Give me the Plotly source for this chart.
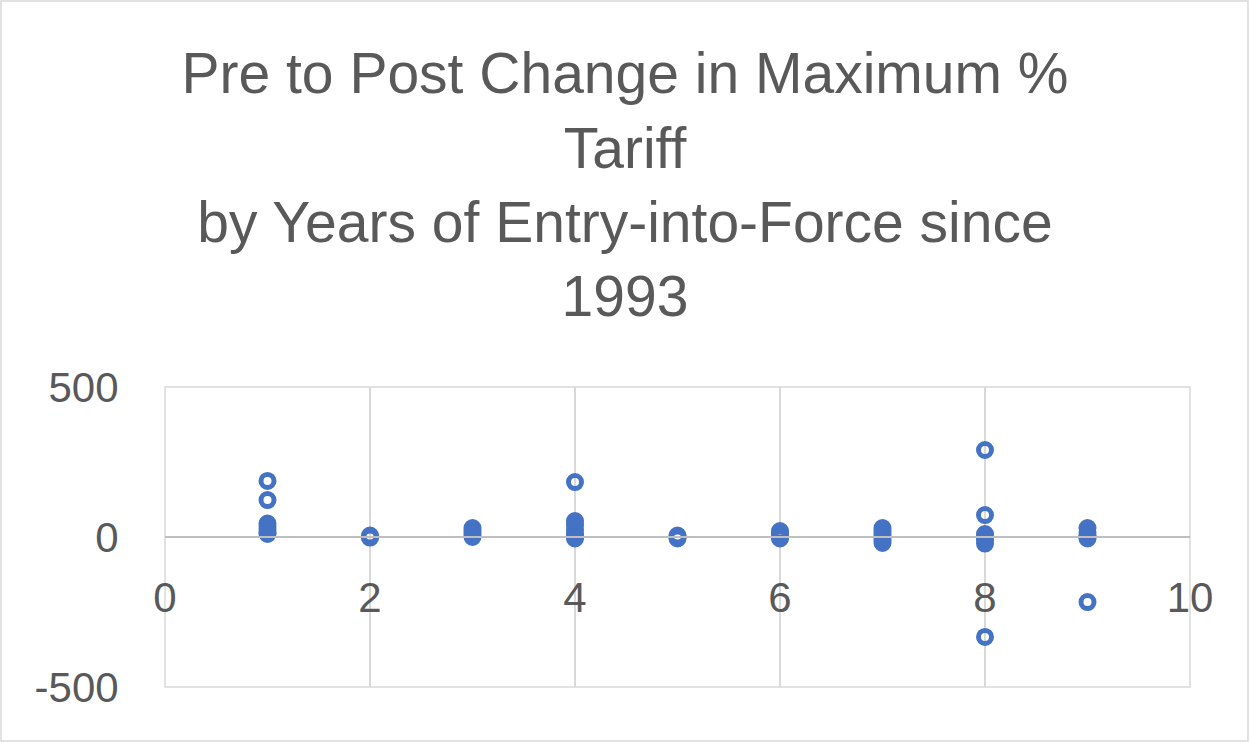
import plotly.graph_objects as go

years = [1, 1, 1, 1, 1, 1, 1,
         2, 2, 2,
         3, 3, 3, 3,
         4, 4, 4, 4, 4, 4, 4,
         5, 5, 5,
         6, 6, 6, 6,
         7, 7, 7, 7, 7, 7,
         8, 8, 8, 8, 8, 8, 8,
         9, 9, 9, 9, 9, 9]
changes = [187, 123, 45, 35, 25, 15, 10,
           5, 0, -2,
           30, 20, 10, 0,
           183, 53, 40, 25, 10, 0, -5,
           5, 0, -5,
           20, 10, 0, -5,
           30, 20, 10, 0, -10, -20,
           290, 73, 10, 0, -10, -22, -333,
           30, 15, 5, 0, -5, -217]

title_text = "Pre to Post Change in Maximum %<br>Tariff<br>by Years of Entry-into-Force since<br>1993"
x_ticks = [0, 2, 4, 6, 8, 10]
y_ticks = [-500, 0, 500]
y_tick_text = ["-500", "0", "500"]

FONT = "Liberation Sans"
GREY = "#595959"

fig = go.Figure(go.Scatter(
    x=years, y=changes, mode="markers",
    marker=dict(symbol="circle-open", size=13, color="#4472C4",
                line=dict(width=5, color="#4472C4")),
))

fig.update_layout(
    width=1250, height=742,
    margin=dict(l=165, r=60, t=387, b=55),
    paper_bgcolor="white", plot_bgcolor="white",
    showlegend=False,
    title=dict(text=title_text, x=0.5, xanchor="center", y=0.874, yanchor="top",
               font=dict(family=FONT, size=57, color=GREY)),
    font=dict(family=FONT, color=GREY),
    shapes=[
        dict(type="rect", xref="paper", yref="paper",
             x0=-164/1025, x1=1083/1025, y0=-54/300, y1=686/300,
             line=dict(color="#d9d9d9", width=1.5), fillcolor="rgba(0,0,0,0)",
             layer="below"),
        dict(type="rect", xref="paper", yref="paper",
             x0=0, x1=1, y0=0, y1=1,
             line=dict(color="#d9d9d9", width=1.5), fillcolor="rgba(0,0,0,0)",
             layer="below"),
    ],
)
fig.update_xaxes(range=[0, 10], tickvals=x_ticks, showgrid=True, gridcolor="#d9d9d9",
                 gridwidth=1.5, zeroline=False, anchor="free", position=0.5,
                 showline=True, linecolor="#bfbfbf", linewidth=1.5,
                 ticks="outside", ticklen=24, tickcolor="rgba(0,0,0,0)",
                 tickfont=dict(family=FONT, size=42, color=GREY))
fig.update_yaxes(range=[-500, 500], tickvals=y_ticks, ticktext=y_tick_text,
                 showgrid=True, gridcolor="#d9d9d9",
                 gridwidth=1.5, zeroline=False, showline=False,
                 ticks="outside", ticklen=37, tickcolor="rgba(0,0,0,0)",
                 tickfont=dict(family=FONT, size=42, color=GREY))

fig.write_html("out.html", config={"displayModeBar": False},
               post_script="document.body.style.margin='0';")
